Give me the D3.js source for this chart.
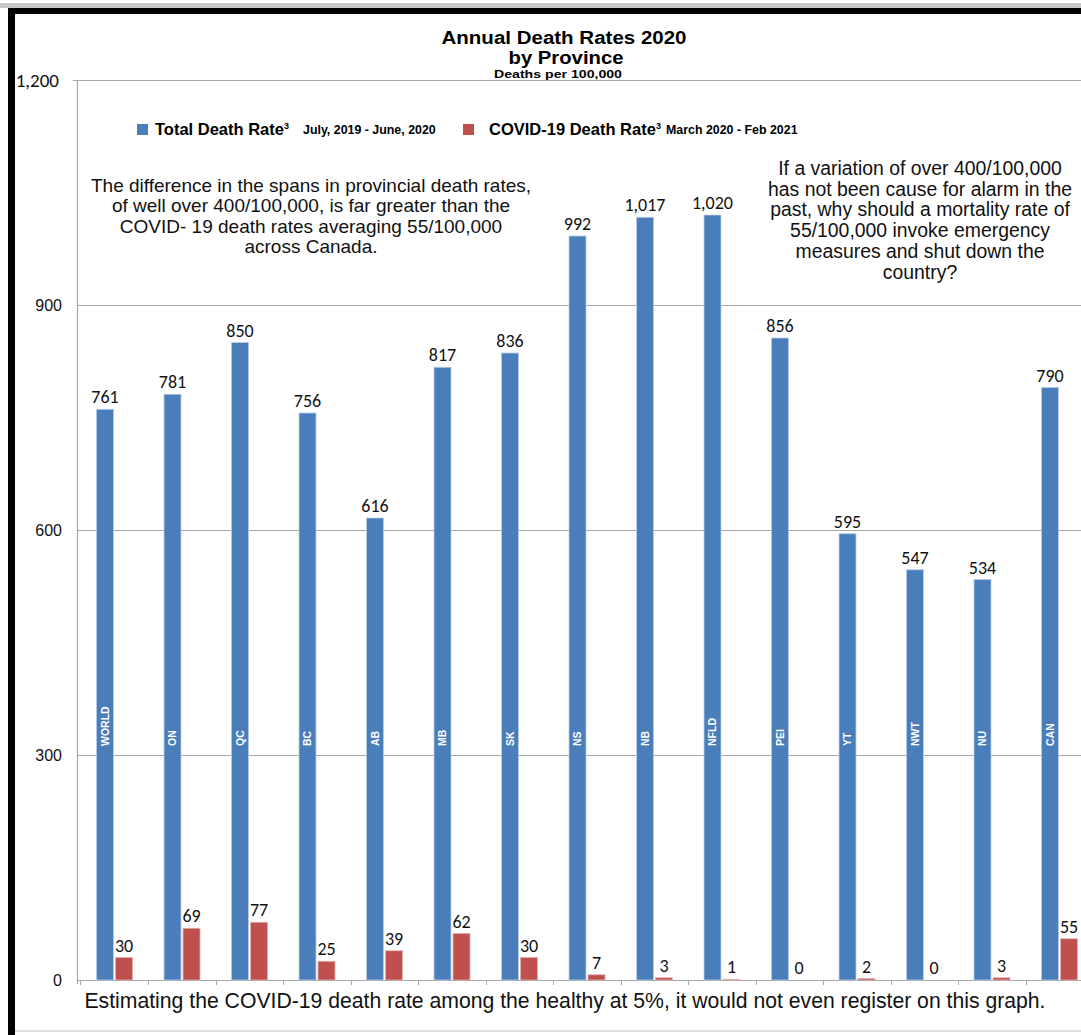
<!DOCTYPE html>
<html lang="en">
<head>
  <meta charset="UTF-8">
  <title>Annual Death Rates 2020 by Province</title>
  <style>
    html, body { margin: 0; padding: 0; background: #fff; }
    svg { display: block; }
  </style>
</head>
<body>
  <div id="chart"></div>

  <script src="https://d3js.org/d3.v7.min.js"></script>
  <script>
    // Data
    const categories = ["WORLD", "ON", "QC", "BC", "AB", "MB", "SK", "NS", "NB", "NFLD", "PEI", "YT", "NWT", "NU", "CAN"];
    const totalRate = [761, 781, 850, 756, 616, 817, 836, 992, 1017, 1020, 856, 595, 547, 534, 790];
    const covidRate = [30, 69, 77, 25, 39, 62, 30, 7, 3, 1, 0, 2, 0, 3, 55];
    const yTicks = [0, 300, 600, 900, 1200];

    const W = 1081, H = 1035;
    const blue = "#4a7ebb", red = "#c0504d", grid = "#a6a6a6";

    const svg = d3.select("#chart").append("svg")
      .attr("width", W)
      .attr("height", H);

    // frame
    svg.append("rect").attr("x", 0).attr("y", 0).attr("width", W).attr("height", H).attr("fill", "#fff");
    svg.append("rect").attr("x", 0).attr("y", 3).attr("width", W).attr("height", 5).attr("fill", "#c8c8c8");
    svg.append("rect").attr("x", 8).attr("y", 8).attr("width", W - 8).attr("height", 6).attr("fill", "#000");
    svg.append("rect").attr("x", 8).attr("y", 8).attr("width", 7).attr("height", H - 8).attr("fill", "#000");
    svg.append("line").attr("x1", 15).attr("x2", W).attr("y1", 1031).attr("y2", 1031)
      .attr("stroke", "#ddd").attr("stroke-width", 2);

    // scales
    const y = d3.scaleLinear().domain([0, 1200]).range([980, 80]);
    const x = d3.scaleBand().domain(categories).range([80.75, 1093.25]).paddingInner(0).paddingOuter(0);
    const barW = 17;
    const gap = 2;

    // gridlines
    svg.append("g")
      .selectAll("line")
      .data(yTicks)
      .enter()
      .append("line")
      .attr("x1", d => d === 1200 ? 73 : 77)
      .attr("x2", W)
      .attr("y1", d => y(d) + 0.5)
      .attr("y2", d => y(d) + 0.5)
      .attr("stroke", grid)
      .attr("stroke-width", 1.2);

    // y axis line
    svg.append("line")
      .attr("x1", 77.5).attr("x2", 77.5)
      .attr("y1", y(1200)).attr("y2", y(0) + 4)
      .attr("stroke", grid).attr("stroke-width", 1.2);

    // y tick labels
    svg.append("g")
      .selectAll("text")
      .data(yTicks)
      .enter()
      .append("text")
      .attr("x", d => d === 1200 ? 59 : 62)
      .attr("y", d => y(d))
      .attr("dy", "0.36em")
      .attr("text-anchor", "end")
      .style("font-family", d => d === 1200 ? "Carlito, Calibri, Lato, sans-serif" : "'Liberation Sans', Arial, sans-serif")
      .style("font-size", d => d === 1200 ? "19px" : "16px")
      .style("fill", "#111")
      .text(d => d3.format(",")(d));

    // category tick marks on the zero line
    svg.append("g")
      .selectAll("line")
      .data(categories.slice(1))
      .enter()
      .append("line")
      .attr("x1", d => Math.round(x(d)) + 0.5)
      .attr("x2", d => Math.round(x(d)) + 0.5)
      .attr("y1", y(0))
      .attr("y2", y(0) + 5)
      .attr("stroke", grid);
    svg.append("line")
      .attr("x1", 80.5).attr("x2", 80.5)
      .attr("y1", y(0)).attr("y2", y(0) + 5)
      .attr("stroke", grid);

    const center = d => x(d) + x.bandwidth() / 2;

    // total death rate bars
    svg.append("g")
      .selectAll("rect")
      .data(categories)
      .enter()
      .append("rect")
      .attr("x", d => center(d) - gap / 2 - barW)
      .attr("y", (d, i) => y(totalRate[i]))
      .attr("width", barW)
      .attr("height", (d, i) => y(0) - y(totalRate[i]))
      .attr("fill", blue)
      .attr("stroke", "#b9cde6")
      .attr("stroke-width", 0.8);

    // covid death rate bars
    svg.append("g")
      .selectAll("rect")
      .data(categories)
      .enter()
      .append("rect")
      .attr("x", d => center(d) + gap / 2)
      .attr("y", (d, i) => y(covidRate[i]))
      .attr("width", barW)
      .attr("height", (d, i) => y(0) - y(covidRate[i]))
      .attr("fill", red)
      .attr("stroke", "#e2b2b0")
      .attr("stroke-width", 0.8);

    // value labels
    const valueFont = "Carlito, Calibri, Lato, sans-serif";
    svg.append("g")
      .selectAll("text")
      .data(categories)
      .enter()
      .append("text")
      .attr("x", d => center(d) - gap / 2 - barW / 2)
      .attr("y", (d, i) => y(totalRate[i]) - 6)
      .attr("text-anchor", "middle")
      .style("font-family", valueFont)
      .style("font-size", "18px")
      .style("fill", "#111")
      .text((d, i) => d3.format(",")(totalRate[i]));

    svg.append("g")
      .selectAll("text")
      .data(categories)
      .enter()
      .append("text")
      .attr("x", d => center(d) + gap / 2 + barW / 2)
      .attr("y", (d, i) => y(covidRate[i]) - 6)
      .attr("text-anchor", "middle")
      .style("font-family", valueFont)
      .style("font-size", "18px")
      .style("fill", "#111")
      .text((d, i) => covidRate[i]);

    // rotated category names inside blue bars
    svg.append("g")
      .selectAll("text")
      .data(categories)
      .enter()
      .append("text")
      .attr("transform", d => `translate(${center(d) - gap / 2 - barW / 2},746) rotate(-90)`)
      .attr("dy", "0.36em")
      .attr("text-anchor", "start")
      .style("font-family", "'Liberation Sans', Arial, sans-serif")
      .style("font-weight", "bold")
      .style("font-size", "10.5px")
      .style("fill", "#fff")
      .text(d => d);

    // title (stretched to the widths of the narrow face in the original)
    const narrow = "'Liberation Sans Narrow', 'Arial Narrow', 'Liberation Sans', Arial, sans-serif";
    svg.append("text")
      .attr("x", 564).attr("y", 44)
      .attr("text-anchor", "middle")
      .attr("textLength", 245).attr("lengthAdjust", "spacingAndGlyphs")
      .style("font-family", narrow).style("font-weight", "bold").style("font-size", "18px")
      .text("Annual Death Rates 2020");
    svg.append("text")
      .attr("x", 566).attr("y", 64)
      .attr("text-anchor", "middle")
      .attr("textLength", 115).attr("lengthAdjust", "spacingAndGlyphs")
      .style("font-family", narrow).style("font-weight", "bold").style("font-size", "18px")
      .text("by Province");
    svg.append("text")
      .attr("x", 558).attr("y", 78)
      .attr("text-anchor", "middle")
      .attr("textLength", 128).attr("lengthAdjust", "spacingAndGlyphs")
      .style("font-family", narrow).style("font-weight", "bold").style("font-size", "10.5px")
      .text("Deaths per 100,000");

    // legend
    const arial = "'Liberation Sans', Arial, sans-serif";
    const legend = svg.append("g");
    legend.append("rect").attr("x", 137).attr("y", 124).attr("width", 11).attr("height", 11).attr("fill", blue);
    const l1 = legend.append("text").attr("x", 155).attr("y", 135)
      .style("font-family", arial).style("font-weight", "bold").style("font-size", "16.5px");
    l1.append("tspan").text("Total Death Rate");
    l1.append("tspan").attr("dy", -6).style("font-size", "9px").text("3");
    legend.append("text").attr("x", 303).attr("y", 134)
      .style("font-family", arial).style("font-weight", "bold").style("font-size", "12.4px")
      .text("July, 2019 - June, 2020");
    legend.append("rect").attr("x", 463).attr("y", 124).attr("width", 11).attr("height", 11).attr("fill", red);
    const l2 = legend.append("text").attr("x", 489).attr("y", 135)
      .style("font-family", arial).style("font-weight", "bold").style("font-size", "16.5px");
    l2.append("tspan").text("COVID-19 Death Rate");
    l2.append("tspan").attr("dy", -6).style("font-size", "9px").text("3");
    legend.append("text").attr("x", 666).attr("y", 134)
      .style("font-family", arial).style("font-weight", "bold").style("font-size", "12.4px")
      .text("March 2020 - Feb 2021");

    // annotations
    const noteLeft = [
      "The difference in the spans in provincial death rates,",
      "of well over 400/100,000, is far greater than the",
      "COVID- 19 death rates averaging 55/100,000",
      "across Canada."
    ];
    svg.append("g")
      .selectAll("text")
      .data(noteLeft)
      .enter()
      .append("text")
      .attr("x", 311)
      .attr("y", (d, i) => 192 + i * 20.3)
      .attr("text-anchor", "middle")
      .style("font-family", arial).style("font-size", "19px").style("fill", "#111")
      .text(d => d);

    const noteRight = [
      "If a variation of over 400/100,000",
      "has not been cause for alarm in the",
      "past, why should a mortality rate of",
      "55/100,000 invoke emergency",
      "measures and shut down the",
      "country?"
    ];
    svg.append("g")
      .selectAll("text")
      .data(noteRight)
      .enter()
      .append("text")
      .attr("x", 920)
      .attr("y", (d, i) => 175 + i * 20.7)
      .attr("text-anchor", "middle")
      .style("font-family", arial).style("font-size", "19.4px").style("fill", "#111")
      .text(d => d);

    svg.append("text")
      .attr("x", 565).attr("y", 1008)
      .attr("text-anchor", "middle")
      .style("font-family", arial).style("font-size", "21.2px").style("fill", "#111")
      .text("Estimating the COVID-19 death rate among the healthy at 5%, it would not even register on this graph.");
  </script>
</body>
</html>
